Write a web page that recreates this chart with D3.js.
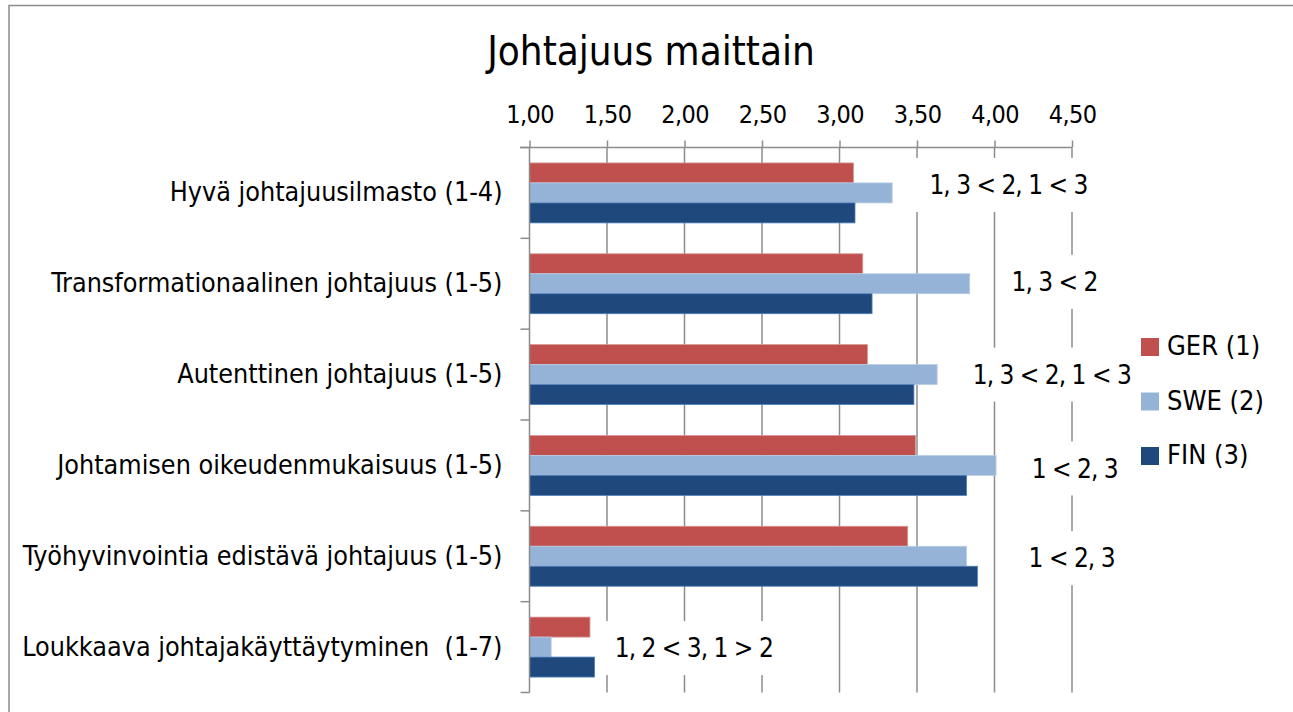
<!DOCTYPE html>
<html>
<head>
<meta charset="utf-8">
<script src="https://cdn.jsdelivr.net/npm/d3@7"></script>
<style>
  body { margin: 0; background: #fff; }
  svg text { font-family: "Liberation Sans Narrow", "DejaVu Sans Condensed", "Arial Narrow", sans-serif; fill: #000; }
</style>
</head>
<body>
<div id="chart"></div>
<script>
// chart data
var categories = [
  "Hyvä johtajuusilmasto (1-4)",
  "Transformationaalinen johtajuus (1-5)",
  "Autenttinen johtajuus (1-5)",
  "Johtamisen oikeudenmukaisuus (1-5)",
  "Työhyvinvointia edistävä johtajuus (1-5)",
  "Loukkaava johtajakäyttäytyminen  (1-7)"
];
var seriesNames = ["GER (1)", "SWE (2)", "FIN (3)"];
var gerValues = [3.09, 3.15, 3.18, 3.49, 3.44, 1.39];
var sweValues = [3.34, 3.84, 3.63, 4.01, 3.82, 1.14];
var finValues = [3.10, 3.21, 3.48, 3.82, 3.89, 1.42];
var tickValues = [1.0, 1.5, 2.0, 2.5, 3.0, 3.5, 4.0, 4.5];
var notes = ["1, 3 < 2, 1 < 3", "1, 3 < 2", "1, 3 < 2, 1 < 3", "1 < 2, 3", "1 < 2, 3", "1, 2 < 3, 1 > 2"];

// where the note boxes sit (x in axis units, dy from band centre)
var noteX = [3.58, 4.11, 3.86, 4.24, 4.22, 1.55];
var noteDy = [-8, -2, 0, 3, 2, 1];

var colors = ["#C0504D", "#95B3D7", "#1F497D"];
var edge = ["#D99694", "#B9CDE5", "#4F81BD"];

var W = 1293, H = 712;
var plotLeft = 529.5, plotRight = 1072, plotTop = 147.5, plotBottom = 692.5;

var svg = d3.select("#chart").append("svg")
  .attr("width", W)
  .attr("height", H);

// outer frame of the chart object
svg.append("rect")
  .attr("x", 9).attr("y", 5.5)
  .attr("width", W + 20).attr("height", H + 20)
  .attr("fill", "#fff")
  .attr("stroke", "#8c8c8c")
  .attr("stroke-width", 1.5);

var x = d3.scaleLinear().domain([1, 4.5]).range([plotLeft, plotRight]);
var y0 = d3.scaleBand().domain(categories).range([plotTop, plotBottom]);
var step = y0.bandwidth();
var y1 = d3.scaleBand().domain(seriesNames).range([step * 0.17, step * 0.83]);

var table = categories.map(function(c, i) {
  return { cat: c, vals: [gerValues[i], sweValues[i], finValues[i]] };
});

// gridlines
svg.append("g").selectAll("line").data(tickValues.slice(1)).enter()
  .append("line")
  .attr("x1", function(d) { return x(d); })
  .attr("x2", function(d) { return x(d); })
  .attr("y1", plotTop).attr("y2", plotBottom)
  .attr("stroke", "#8c8c8c").attr("stroke-width", 1.5);

// bars
var groups = svg.append("g").selectAll("g").data(table).enter()
  .append("g")
  .attr("transform", function(d) { return "translate(0," + y0(d.cat) + ")"; });

groups.selectAll("rect").data(function(d) {
    return d.vals.map(function(v, j) { return { s: seriesNames[j], v: v, j: j }; });
  }).enter()
  .append("rect")
  .attr("x", x(1))
  .attr("y", function(d) { return y1(d.s); })
  .attr("width", function(d) { return x(d.v) - x(1); })
  .attr("height", y1.bandwidth())
  .attr("fill", function(d) { return colors[d.j]; })
  .attr("stroke", function(d) { return edge[d.j]; })
  .attr("stroke-width", 0.8);

// top axis
var axisTop = d3.axisTop(x).tickValues(tickValues)
  .tickFormat(function(d) { return d3.format(".2f")(d).replace(".", ","); })
  .tickSize(7).tickPadding(18);
var ga = svg.append("g").attr("transform", "translate(0," + plotTop + ")").call(axisTop);
ga.select(".domain").attr("stroke", "#8c8c8c").attr("stroke-width", 1.5).attr("d", "M520,0H" + plotRight);
ga.selectAll(".tick line").attr("stroke", "#8c8c8c").attr("stroke-width", 1.5);
ga.selectAll(".tick text").style("font-size", "25px").style("letter-spacing", "-0.6px").attr("fill", "#000");

// left axis
var axisLeft = d3.axisLeft(y0).tickSize(0).tickPadding(27);
var gl = svg.append("g").attr("transform", "translate(" + plotLeft + ",0)").call(axisLeft);
gl.select(".domain").attr("stroke", "#8c8c8c").attr("stroke-width", 1.5).attr("d", "M0," + plotTop + "V" + plotBottom);
gl.selectAll(".tick text").style("font-size", "26.7px").style("white-space", "pre").attr("fill", "#000");
gl.append("g").selectAll("line").data(d3.range(categories.length + 1)).enter()
  .append("line")
  .attr("x1", -9).attr("x2", 0)
  .attr("y1", function(i) { return plotTop + i * step; })
  .attr("y2", function(i) { return plotTop + i * step; })
  .attr("stroke", "#8c8c8c").attr("stroke-width", 1.5);

// difference notes with white boxes
var noteG = svg.append("g").selectAll("g").data(notes).enter()
  .append("g")
  .attr("transform", function(d, i) {
    return "translate(" + x(noteX[i]) + "," + (y0(categories[i]) + step / 2 + noteDy[i]) + ")";
  });
noteG.append("text")
  .attr("dy", "0.35em")
  .style("font-size", "26px")
  .style("letter-spacing", "-1px")
  .text(function(d) { return d; });
noteG.each(function() {
  var g = d3.select(this);
  var bb = g.select("text").node().getBBox();
  g.insert("rect", "text")
    .attr("x", bb.x - 14).attr("y", -27)
    .attr("width", bb.width + 28).attr("height", 54)
    .attr("fill", "#fff");
});

// legend
var leg = svg.append("g").selectAll("g").data(seriesNames).enter()
  .append("g")
  .attr("transform", function(d, i) { return "translate(1141," + (338 + i * 54.5) + ")"; });
leg.append("rect").attr("width", 18).attr("height", 18)
  .attr("fill", function(d, i) { return colors[i]; });
leg.append("text").attr("x", 26).attr("y", 17)
  .style("font-size", "27px")
  .text(function(d) { return d; });

// title
svg.append("text")
  .attr("x", 651).attr("y", 65)
  .attr("text-anchor", "middle")
  .style("font-size", "40px")
  .text("Johtajuus maittain");
</script>
</body>
</html>
